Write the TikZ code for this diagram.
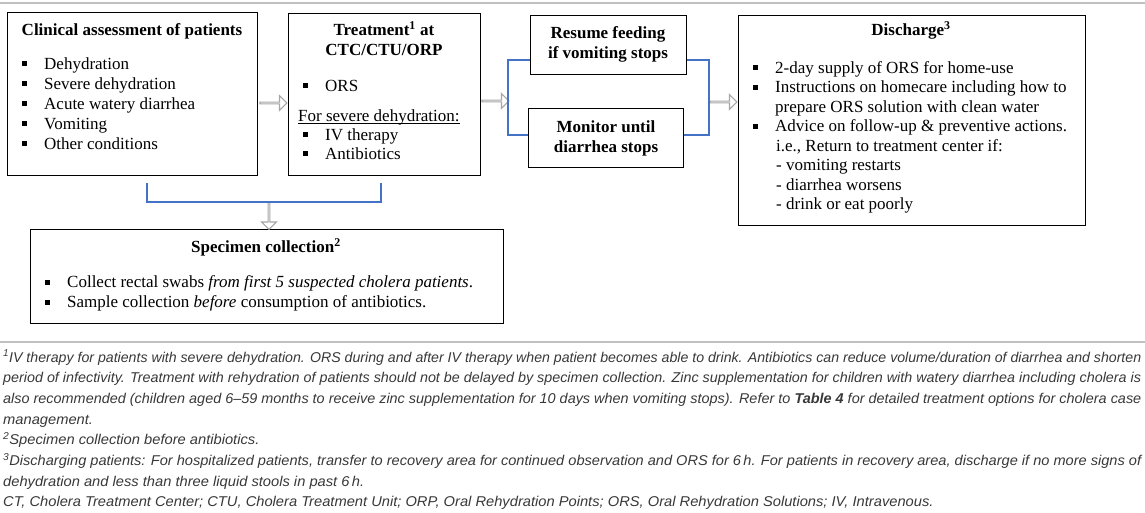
\documentclass[tikz,border=0pt]{standalone}
\usepackage{fontspec}
\setmainfont{Liberation Serif}
\newfontfamily\fnfont[FakeStretch=1.035]{Liberation Sans}
\usetikzlibrary{shapes.arrows}
\definecolor{lineblue}{HTML}{4472C4}
\definecolor{arrgray}{HTML}{A6A6A6}
\definecolor{rulegray}{HTML}{C0C0C0}
\definecolor{fngray}{HTML}{383838}
\newcommand{\fullline}[1]{\resizebox{1138pt}{\height}{#1}}
\begin{document}
\begin{tikzpicture}[x=1pt,y=-1pt,
  box/.style={draw=black, line width=1.2pt, inner sep=0pt, anchor=north west},
  ttl/.style={inner sep=0pt, anchor=base, font=\fontsize{17}{20}\selectfont\bfseries},
  item/.style={inner sep=0pt, anchor=base west, font=\fontsize{17}{20}\selectfont},
  bul/.style={fill=black, minimum size=5pt, inner sep=0pt, outer sep=0pt},
  harrow/.style={single arrow, draw=arrgray, line width=1.1pt, fill=white, minimum height=27pt, minimum width=15pt, single arrow head extend=4pt, inner sep=0pt},
  bracket/.style={draw=lineblue, line width=1.3pt},
  uline/.style={draw=black, line width=0.8pt},
  fn/.style={inner sep=0pt, anchor=base west, text=fngray, font=\fnfont\itshape\fontsize{14.2}{16}\selectfont},
  grule/.style={draw=rulegray, line width=1.6pt}]
\useasboundingbox (0,0) rectangle (1145,513);
\draw[grule] (0,3) -- (1145,3);
\draw[grule] (0,342) -- (1145,342);
% boxes
\node[box, minimum width=250pt, minimum height=163pt] (clin) at (7,12) {};
\node[box, minimum width=192pt, minimum height=162pt] (treat) at (288,13) {};
\node[box, minimum width=156pt, minimum height=59pt] (res) at (530,15) {};
\node[box, minimum width=155pt, minimum height=59pt] (mon) at (528,108) {};
\node[box, minimum width=347pt, minimum height=210pt] (dis) at (738,15) {};
\node[box, minimum width=473pt, minimum height=94pt] (spec) at (30,229) {};
% clinical
\node[ttl] (clinT) at (132,36) {Clinical assessment of patients};
\foreach \t [count=\i] in {Dehydration, Severe dehydration, Acute watery diarrhea, Vomiting, Other conditions} {
  \node[bul] (clinB\i) at (24,44+20*\i) {};
  \node[item] (clinI\i) at (44,49.5+20*\i) {\t};
}
% treatment
\node[ttl] (treatT1) at (384,36) {Treatment\textsuperscript{1} at};
\node[ttl] (treatT2) at (384,56) {CTC/CTU/ORP};
\node[bul] (treatB1) at (305,86) {};
\node[item] (treatI1) at (325,91.5) {ORS};
\node[item] (treatU) at (298,121.5) {For severe dehydration:};
\draw[uline] ([yshift=-2.2pt]treatU.base west) -- ([yshift=-2.2pt]treatU.base east);
\node[bul] (treatB2) at (305,135) {};
\node[item] (treatI2) at (325,140.5) {IV therapy};
\node[bul] (treatB3) at (305,154) {};
\node[item] (treatI3) at (325,159.5) {Antibiotics};
% resume / monitor
\node[ttl] (resT1) at (608,39) {Resume feeding};
\node[ttl] (resT2) at (608,59) {if vomiting stops};
\node[ttl] (monT1) at (606,133) {Monitor until};
\node[ttl] (monT2) at (606,153) {diarrhea stops};
% discharge
\node[ttl] (disT) at (911,36) {Discharge\textsuperscript{3}};
\node[bul] (disB1) at (755,68) {};
\node[item] (disI1) at (775,73.5) {2-day supply of ORS for home-use};
\node[bul] (disB2) at (755,87.5) {};
\node[item] (disI2) at (775,93) {Instructions on homecare including how to};
\node[item] (disI3) at (775,112.5) {prepare ORS solution with clean water};
\node[bul] (disB3) at (755,126.5) {};
\node[item] (disI4) at (775,132) {Advice on follow-up \& preventive actions.};
\node[item] (disI5) at (776,151.5) {i.e., Return to treatment center if:};
\node[item] (disI6) at (776,171) {- vomiting restarts};
\node[item] (disI7) at (776,190.5) {- diarrhea worsens};
\node[item] (disI8) at (776,210) {- drink or eat poorly};
% specimen
\node[ttl] (specT) at (266,252.5) {Specimen collection\textsuperscript{2}};
\node[bul] (specB1) at (47,282) {};
\node[item] (specI1) at (67,287.5) {Collect rectal swabs \textit{from first 5 suspected cholera patients}.};
\node[bul] (specB2) at (47,302) {};
\node[item] (specI2) at (67,307.5) {Sample collection \textit{before} consumption of antibiotics.};
% block arrows
\node[harrow] (arr1) at (273,103) {};
\node[harrow] (arr2) at (495,101) {};
\node[harrow] (arr3) at (723,102) {};
\node[harrow, shape border rotate=270] (arr4) at (269,215.5) {};
% brackets
\coordinate (bl) at (508,60);
\coordinate (br) at (709,60);
\draw[bracket] (res.west |- bl) -- (bl) -- (bl |- 0,135) -- (mon.west |- 0,135);
\draw[bracket] (res.east |- br) -- (br) -- (br |- 0,135) -- (mon.east |- 0,135);
\coordinate (bb1) at (147,183);
\coordinate (bb2) at (381,183);
\draw[bracket] (bb1) -- (bb1 |- 0,202) -- (bb2 |- 0,202) -- (bb2);
% footnotes
\node[fn] (fn1) at (3,362) {\fullline{\textsuperscript{1}IV therapy for patients with severe dehydration. ORS during and after IV therapy when patient becomes able to drink. Antibiotics can reduce volume/duration of diarrhea and shorten}};
\node[fn] (fn2) at (3,382.7) {\fullline{period of infectivity. Treatment with rehydration of patients should not be delayed by specimen collection. Zinc supplementation for children with watery diarrhea including cholera is}};
\node[fn] (fn3) at (3,403.4) {\fullline{also recommended (children aged 6\textendash 59 months to receive zinc supplementation for 10 days when vomiting stops). Refer to \textbf{Table 4} for detailed treatment options for cholera case}};
\node[fn] (fn4) at (3,424.1) {management.};
\node[fn] (fn5) at (3,444.8) {\textsuperscript{2}Specimen collection before antibiotics.};
\node[fn] (fn6) at (3,465.5) {\fullline{\textsuperscript{3}Discharging patients: For hospitalized patients, transfer to recovery area for continued observation and ORS for 6\,h. For patients in recovery area, discharge if no more signs of}};
\node[fn] (fn7) at (3,486.2) {dehydration and less than three liquid stools in past 6\,h.};
\node[fn] (fn8) at (3,506.9) {CT, Cholera Treatment Center; CTU, Cholera Treatment Unit; ORP, Oral Rehydration Points; ORS, Oral Rehydration Solutions; IV, Intravenous.};
\end{tikzpicture}
\end{document}
